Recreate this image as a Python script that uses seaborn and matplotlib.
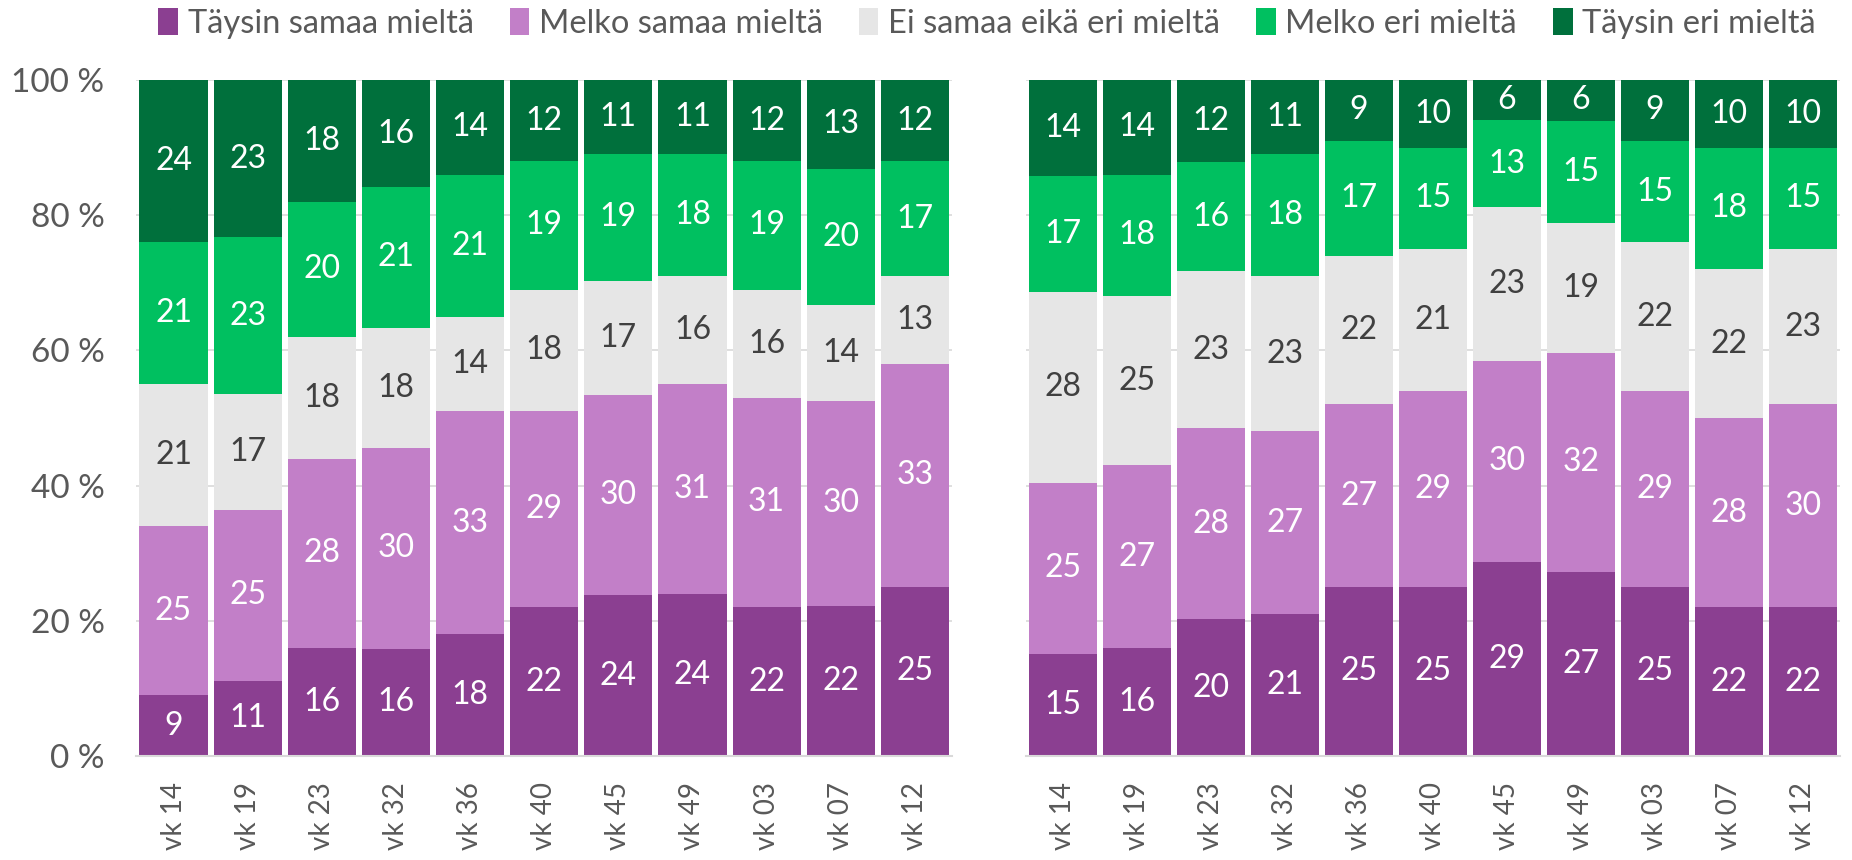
import matplotlib
matplotlib.use("Agg")
import matplotlib.pyplot as plt
from matplotlib.patches import Patch
import numpy as np
import pandas as pd
import seaborn as sns

weeks = ['vk 14', 'vk 19', 'vk 23', 'vk 32', 'vk 36', 'vk 40', 'vk 45', 'vk 49', 'vk 03', 'vk 07', 'vk 12']
series = ['Täysin samaa mieltä', 'Melko samaa mieltä', 'Ei samaa eikä eri mieltä', 'Melko eri mieltä', 'Täysin eri mieltä']
colors = ['#8B3F91', '#C27FC8', '#E6E6E6', '#00C060', '#00703C']
label_colors = ['white', 'white', '#404040', 'white', 'white']

left_taysin_samaa = [9, 11, 16, 16, 18, 22, 24, 24, 22, 22, 25]
left_melko_samaa = [25, 25, 28, 30, 33, 29, 30, 31, 31, 30, 33]
left_ei_samaa = [21, 17, 18, 18, 14, 18, 17, 16, 16, 14, 13]
left_melko_eri = [21, 23, 20, 21, 21, 19, 19, 18, 19, 20, 17]
left_taysin_eri = [24, 23, 18, 16, 14, 12, 11, 11, 12, 13, 12]

right_taysin_samaa = [15, 16, 20, 21, 25, 25, 29, 27, 25, 22, 22]
right_melko_samaa = [25, 27, 28, 27, 27, 29, 30, 32, 29, 28, 30]
right_ei_samaa = [28, 25, 23, 23, 22, 21, 23, 19, 22, 22, 23]
right_melko_eri = [17, 18, 16, 18, 17, 15, 13, 15, 15, 18, 15]
right_taysin_eri = [14, 14, 12, 11, 9, 10, 6, 6, 9, 10, 10]

sns.set_theme(style='white')
plt.rcParams['font.family'] = ['Lato', 'DejaVu Sans']
txt_grey = '#595959'
fs = 23


def stacked(ax, layers, show_y):
    vals = np.array(layers, dtype=float)
    pct = vals / vals.sum(axis=0) * 100  # 100 % stacked like the original
    cum = pct.cumsum(axis=0)
    # draw from the top segment down so the overlapping bars form the stack
    for i in range(len(series) - 1, -1, -1):
        df = pd.DataFrame({'week': weeks, 'value': cum[i]})
        sns.barplot(data=df, x='week', y='value', color=colors[i], width=0.92,
                    saturation=1, linewidth=0, ax=ax, zorder=2)
    for i in range(len(series)):
        for j in range(len(weeks)):
            ax.text(j, cum[i, j] - pct[i, j] / 2, str(int(vals[i, j])), ha='center', va='center',
                    color=label_colors[i], fontsize=fs, zorder=3)
    ax.set_ylim(0, 100)
    ax.set_xlim(-0.5, len(weeks) - 0.5)
    ax.set_yticks(range(0, 101, 20))
    ax.yaxis.grid(True, color='#D9D9D9', linewidth=1.2, zorder=0)
    ax.set_axisbelow(True)
    for s in ['left', 'right', 'top']:
        ax.spines[s].set_visible(False)
    ax.spines['bottom'].set_color('#D9D9D9')
    ax.spines['bottom'].set_linewidth(1.5)
    ax.set_xlabel('')
    ax.set_ylabel('')
    ax.tick_params(axis='x', rotation=90, labelsize=20, labelcolor=txt_grey, length=0, pad=19)
    ax.tick_params(axis='y', labelsize=fs + 1, labelcolor=txt_grey, length=0, pad=23)
    if show_y:
        ax.set_yticklabels(['{} %'.format(v) for v in range(0, 101, 20)])
    else:
        ax.set_yticklabels([])


fig = plt.figure(figsize=(18.52, 8.6), dpi=100)
ax1 = fig.add_axes([0.0737, 0.121, 0.4403, 0.786])
ax2 = fig.add_axes([0.554, 0.121, 0.4395, 0.786])

stacked(ax1, [left_taysin_samaa, left_melko_samaa, left_ei_samaa, left_melko_eri, left_taysin_eri], True)
stacked(ax2, [right_taysin_samaa, right_melko_samaa, right_ei_samaa, right_melko_eri, right_taysin_eri], False)

handles = [Patch(facecolor=c, edgecolor='none') for c in colors]
fig.legend(handles, series, loc='upper center', bbox_to_anchor=(0.533, 1.025), ncol=5,
           frameon=False, fontsize=23.5, handlelength=0.6, handleheight=0.9, handletextpad=0.3,
           columnspacing=1.1, labelcolor=txt_grey)

plt.savefig('out.png', dpi=100)
